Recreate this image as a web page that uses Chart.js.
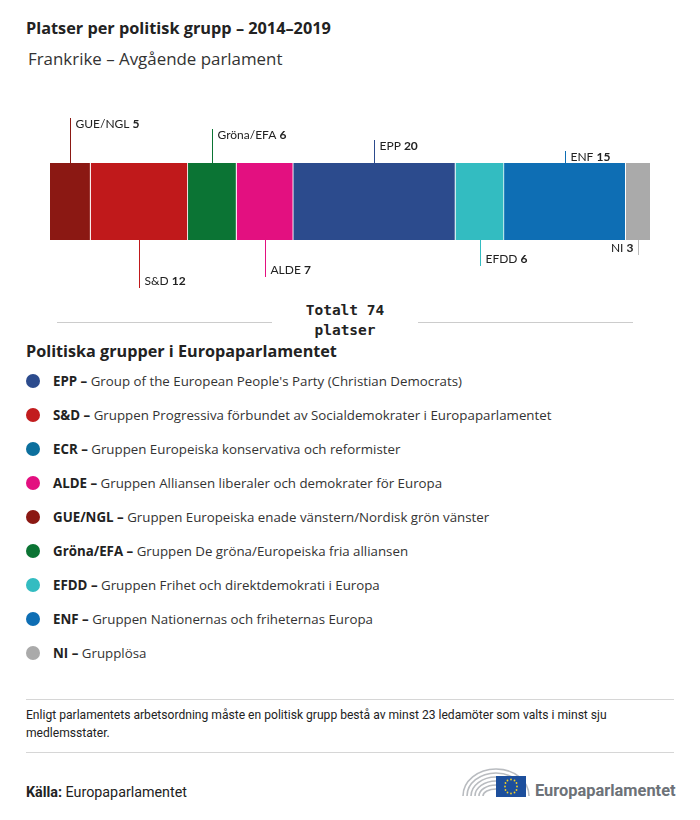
<!DOCTYPE html>
<html><head><meta charset="utf-8">
<script src="https://cdn.jsdelivr.net/npm/chart.js@4/dist/chart.umd.min.js"></script>
<style>
html,body{margin:0;padding:0;background:#fff;}
body{width:700px;height:820px;position:relative;font-family:"Open Sans","Noto Sans",sans-serif;color:#222;overflow:hidden;}
.abs{position:absolute;white-space:nowrap;}
#title{left:26px;top:17px;font-size:16.3px;font-weight:700;}
#sub{left:28px;top:47px;font-size:16.9px;color:#333;}
#cwrap{position:absolute;left:0;top:90px;width:700px;height:210px;}
.hr{position:absolute;height:1px;background:#ccc;}
#total{left:272px;width:146px;top:300px;text-align:center;font-family:"DejaVu Sans Mono",monospace;font-weight:700;font-size:14.5px;line-height:20px;color:#222;}
#lh{left:26px;top:340px;font-size:16.2px;font-weight:700;}
.li{position:absolute;left:26px;height:20px;font-size:13.3px;line-height:20px;white-space:nowrap;color:#333;}
.dot{position:absolute;left:0px;top:3px;width:14px;height:14px;border-radius:50%;}
.li span.t{position:absolute;left:27px;top:0;}
.li b{color:#222;}
#note{left:26px;top:706px;font-size:12.1px;line-height:18px;white-space:normal;width:610px;color:#222;font-family:Roboto,sans-serif;}
#src{left:26px;top:784px;font-size:14.3px;font-family:Roboto,sans-serif;}
</style></head><body>
<div class="abs" id="title">Platser per politisk grupp – 2014–2019</div>
<div class="abs" id="sub">Frankrike – Avgående parlament</div>
<div id="cwrap"><canvas id="c" width="700" height="210"></canvas></div>
<div class="hr" style="left:57px;width:215px;top:322px;"></div>
<div class="hr" style="left:418px;width:215px;top:322px;"></div>
<div class="abs" id="total">Totalt 74<br>platser</div>
<div class="abs" id="lh">Politiska grupper i Europaparlamentet</div>
<div id="legend"></div>
<div class="hr" style="left:26px;width:648px;top:699px;background:#d6d6d6;"></div>
<div class="abs" id="note">Enligt parlamentets arbetsordning måste en politisk grupp bestå av minst 23 ledamöter som valts i minst sju medlemsstater.</div>
<div class="hr" style="left:26px;width:648px;top:752px;background:#d6d6d6;"></div>
<div class="abs" id="src"><b>Källa:</b> Europaparlamentet</div>
<svg class="abs" style="left:455px;top:758px;" width="230" height="45" viewBox="0 0 230 45">
  <g fill="none" stroke="#b9bcc0" stroke-width="1.6">
    <path d="M8 38 A33 27 0 0 1 74 38"/>
    <path d="M12 38 A29 23 0 0 1 70 38"/>
    <path d="M16 38 A25 19 0 0 1 66 38"/>
    <path d="M20 38 A21 15 0 0 1 62 38"/>
    <path d="M24 38 A17 11 0 0 1 58 38"/>
    <path d="M28 38 A13 7 0 0 1 54 38"/>
  </g>
  <rect x="41" y="18" width="30" height="21" fill="#1d4f9c"/>
  <g fill="#f2d024">
    <circle cx="56" cy="21.5" r="0.9"/><circle cx="59.5" cy="22.5" r="0.9"/><circle cx="61.5" cy="25" r="0.9"/>
    <circle cx="62" cy="28.5" r="0.9"/><circle cx="61.5" cy="32" r="0.9"/><circle cx="59.5" cy="34.5" r="0.9"/>
    <circle cx="56" cy="35.5" r="0.9"/><circle cx="52.5" cy="34.5" r="0.9"/><circle cx="50.5" cy="32" r="0.9"/>
    <circle cx="50" cy="28.5" r="0.9"/><circle cx="50.5" cy="25" r="0.9"/><circle cx="52.5" cy="22.5" r="0.9"/>
  </g>
  <text x="80" y="38" font-family="Roboto, sans-serif" font-weight="700" font-size="16.4" fill="#6d7278">Europaparlamentet</text>
</svg>
<script>
// ---- data ----
const groups = ["GUE/NGL","S&D","Gröna/EFA","ALDE","EPP","EFDD","ENF","NI"];
const seats  = [5,12,6,7,20,6,15,3];
const barColors = ["#8b1813","#c0191b","#0b7434","#e31080","#2c4b8d","#33bcc1","#0e6eb4","#aaaaaa"];
const labelSide = ["up","down","up","down","up","down","up","down"];
const totalSeats = 74;

const legendAbbr = ["EPP","S&D","ECR","ALDE","GUE/NGL","Gröna/EFA","EFDD","ENF","NI"];
const legendText = [
 "Group of the European People's Party (Christian Democrats)",
 "Gruppen Progressiva förbundet av Socialdemokrater i Europaparlamentet",
 "Gruppen Europeiska konservativa och reformister",
 "Gruppen Alliansen liberaler och demokrater för Europa",
 "Gruppen Europeiska enade vänstern/Nordisk grön vänster",
 "Gruppen De gröna/Europeiska fria alliansen",
 "Gruppen Frihet och direktdemokrati i Europa",
 "Gruppen Nationernas och friheternas Europa",
 "Grupplösa"];
const legendColors = ["#2c4b8d","#c21c1e","#0c6f9d","#e31080","#8b1813","#0b7434","#33bcc1","#0e6eb4","#aaaaaa"];

// legend (HTML)
const lg = document.getElementById('legend');
legendAbbr.forEach((a,i)=>{
  const d = document.createElement('div');
  d.className='li'; d.style.top=(371+i*34)+'px';
  d.innerHTML='<div class="dot" style="background:'+legendColors[i]+'"></div><span class="t"><b>'+a.replace('&','&amp;')+' –</b> '+legendText[i]+'</span>';
  lg.appendChild(d);
});

const leaderPlugin = {
  id:'leaders',
  afterDatasetsDraw(chart){
    const ctx = chart.ctx, xs = chart.scales.x, ca = chart.chartArea;
    let cum = 0, up = 0, down = 0;
    ctx.save();
    ctx.lineWidth = 1;
    ctx.textBaseline = 'middle';
    const n = groups.length;
    groups.forEach((g,i)=>{
      const cx = Math.round(xs.getPixelForValue(cum + seats[i]/2)) + 0.5;
      cum += seats[i];
      ctx.strokeStyle = i===n-1 ? '#bbbbbb' : barColors[i];
      let ty, y1, y2;
      if (labelSide[i]==='up'){
        y1 = ca.top - 45 + up*11; y2 = ca.top; ty = y1 + 6; up++;
      } else {
        const k = (n/2 - 1) - down;
        y1 = ca.bottom; y2 = ca.bottom + 15 + k*11; ty = y2 - 7; down++;
      }
      ctx.beginPath(); ctx.moveTo(cx,y1); ctx.lineTo(cx,y2); ctx.stroke();
      const reg = g + ' ', bold = String(seats[i]);
      ctx.font = '12px Lato, sans-serif';
      const w1 = ctx.measureText(reg).width;
      ctx.font = 'bold 12px Lato, sans-serif';
      const w2 = ctx.measureText(bold).width;
      let tx = i===n-1 ? cx - 5 - (w1+w2) : cx + 5;
      ctx.fillStyle = '#222';
      ctx.textAlign = 'left';
      ctx.font = '12px Lato, sans-serif';
      ctx.fillText(reg, tx, ty);
      ctx.font = 'bold 12px Lato, sans-serif';
      ctx.fillText(bold, tx + w1, ty);
    });
    ctx.restore();
  }
};

new Chart(document.getElementById('c'), {
  type:'bar',
  data:{
    labels:['Frankrike'],
    datasets: groups.map((g,i)=>({
      label:g, data:[seats[i]], backgroundColor:barColors[i],
      borderColor:'#ffffff', borderWidth: i<groups.length-1 ? {right:1,left:0,top:0,bottom:0} : 0,
      borderSkipped:false, barPercentage:1, categoryPercentage:1
    }))
  },
  options:{
    indexAxis:'y', responsive:false, animation:false, devicePixelRatio:1,
    layout:{padding:{left:50,right:50,top:73,bottom:60}},
    plugins:{legend:{display:false}, tooltip:{enabled:false}},
    scales:{
      x:{stacked:true, display:false, min:0, max:totalSeats},
      y:{stacked:true, display:false}
    }
  },
  plugins:[leaderPlugin]
});
</script>
</body></html>
